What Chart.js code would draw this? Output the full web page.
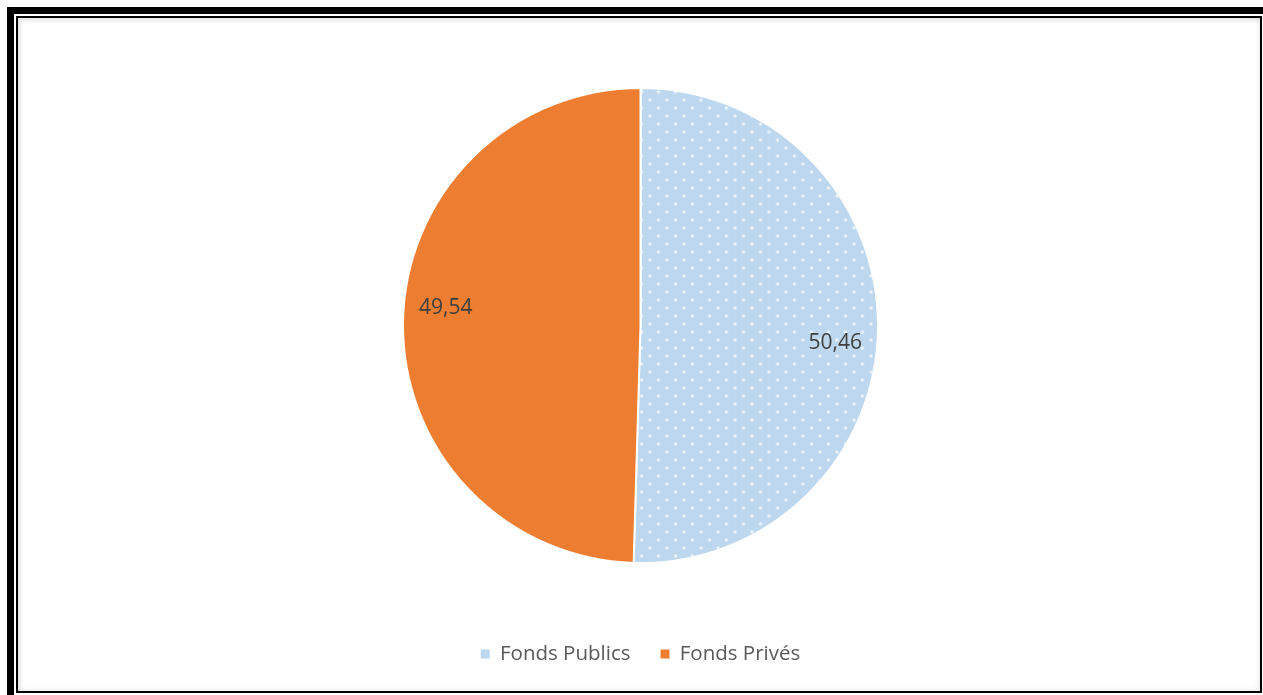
<!DOCTYPE html>
<html lang="fr">
<head>
<meta charset="utf-8">
<title>Fonds Publics / Fonds Privés</title>
<script src="https://cdn.jsdelivr.net/npm/chart.js@4.4.1/dist/chart.umd.min.js"></script>
<style>
  html, body { margin: 0; padding: 0; background: #fff; overflow: hidden; }
  body { width: 1263px; height: 695px; position: relative; }
  .frame-outer {
    position: absolute; left: 7px; top: 7px; width: 1256px; height: 688px;
    box-sizing: border-box; border-top: 7px solid #000; border-left: 7px solid #000;
  }
  .frame-inner {
    position: absolute; left: 16px; top: 16px; width: 1246px; height: 677px;
    box-sizing: border-box; border: 2px solid #000;
    box-shadow: inset 2px 2px 4px rgba(0,0,0,0.13), inset -2px -2px 4px rgba(0,0,0,0.06);
  }
  #chart { position: absolute; left: 0; top: 0; }
</style>
</head>
<body>
<div class="frame-outer"></div>
<div class="frame-inner"></div>
<canvas id="chart" width="1263" height="695"></canvas>
<script>
// Répartition du financement (en %)
const categories = ['Fonds Publics', 'Fonds Privés'];
const shares = [50.46, 49.54];
const sliceColors = ['#BDD7EE', '#ED7D31'];

// Motif pointillé blanc sur fond bleu clair
function dottedPattern(base) {
  const tile = document.createElement('canvas');
  tile.width = 17; tile.height = 16;
  const c = tile.getContext('2d');
  c.fillStyle = base;
  c.fillRect(0, 0, 17, 16);
  const dots = [[4, 4], [12.5, 12]];
  dots.forEach(([x, y]) => {
    const g = c.createRadialGradient(x, y, 0, x, y, 2.4);
    g.addColorStop(0, 'rgba(255,255,255,0.9)');
    g.addColorStop(0.5, 'rgba(255,255,255,0.5)');
    g.addColorStop(1, 'rgba(255,255,255,0)');
    c.fillStyle = g;
    c.fillRect(x - 3, y - 3, 6, 6);
  });
  return document.getElementById('chart').getContext('2d').createPattern(tile, 'repeat');
}

const fills = [dottedPattern(sliceColors[0]), sliceColors[1]];

// Étiquettes de valeur à l'intérieur des parts
const valueLabels = {
  id: 'valueLabels',
  afterDatasetsDraw(chart) {
    const ctx = chart.ctx;
    const meta = chart.getDatasetMeta(0);
    const data = chart.data.datasets[0].data;
    ctx.save();
    ctx.font = '21px "Open Sans", sans-serif';
    ctx.fillStyle = '#404040';
    ctx.textAlign = 'center';
    ctx.textBaseline = 'middle';
    meta.data.forEach((arc, i) => {
      const p = arc.getProps(['x', 'y', 'startAngle', 'endAngle', 'outerRadius'], true);
      const mid = (p.startAngle + p.endAngle) / 2 + 4.3 * Math.PI / 180;
      const r = p.outerRadius * 0.823;
      const text = data[i].toFixed(2).replace('.', ',');
      ctx.fillText(text, p.x + Math.cos(mid) * r, p.y + Math.sin(mid) * r);
    });
    ctx.restore();
  }
};

new Chart(document.getElementById('chart'), {
  type: 'pie',
  data: {
    labels: categories,
    datasets: [{
      data: shares,
      backgroundColor: fills,
      borderColor: '#ffffff',
      borderWidth: 2,
      hoverOffset: 0
    }]
  },
  options: {
    responsive: false,
    animation: false,
    events: [],
    layout: { padding: { top: 37.25, bottom: 20.75, left: 402, right: 384 } },
    plugins: {
      tooltip: { enabled: false },
      legend: {
        position: 'bottom',
        labels: {
          boxWidth: 9,
          boxHeight: 9,
          padding: 30,
          color: '#595959',
          font: { family: '"Open Sans", sans-serif', size: 20.5 },
          generateLabels(chart) {
            const items = Chart.overrides.pie.plugins.legend.labels.generateLabels(chart);
            items.forEach((it, i) => {
              it.fillStyle = sliceColors[i];
              it.strokeStyle = sliceColors[i];
              it.lineWidth = 0;
            });
            return items;
          }
        }
      }
    }
  },
  plugins: [valueLabels]
});
</script>
</body>
</html>
